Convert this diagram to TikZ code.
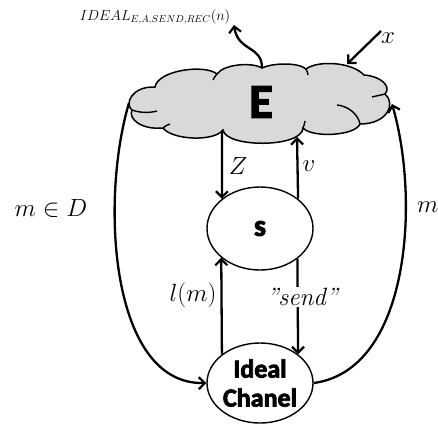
\documentclass[tikz,border=0pt]{standalone}
\usepackage{fontspec}
\newfontfamily\calfont{Carlito}[BoldFeatures={FakeBold=3}]
\usetikzlibrary{shapes.geometric,arrows.meta}
\begin{document}
\begin{tikzpicture}[x=1pt,y=-1pt,
  conn/.style={line width=2.3pt,-{Straight Barb[length=6pt,width=12pt,line width=2.2pt]}},
  ell/.style={ellipse,draw,line width=1.4pt,inner sep=0pt,minimum width=106pt},
  lab/.style={inner sep=0pt,font=\fontsize{25}{30}\selectfont},
  puff/.style={line width=1.5pt},
  curl/.style={line width=1.4pt}]
\useasboundingbox (0,0) rectangle (438,423);
% cloud outline
\draw[puff,fill=gray!30] (132,110)
  .. controls (124,104) and (132,86) .. (155,87)
  .. controls (158,70) and (205,64) .. (217,74)
  .. controls (224,64) and (252,62) .. (262,68)
  .. controls (272,63) and (298,62) .. (306,69)
  .. controls (318,60) and (352,62) .. (364,75)
  .. controls (380,76) and (392,86) .. (385,94)
  .. controls (396,103) and (388,124) .. (360,124)
  .. controls (355,136) and (312,138) .. (303,128)
  .. controls (302,148) and (226,148) .. (223,130)
  .. controls (214,142) and (172,140) .. (163,128)
  .. controls (140,130) and (128,118) .. cycle;
% inner curls
\draw[curl] (132,110) .. controls (140,113) and (150,113) .. (157,111);
\draw[curl] (217,74) .. controls (215,76) and (214,78) .. (213,80);
\draw[curl] (306,69) .. controls (307,71) and (308,73) .. (308,75);
\draw[curl] (385,94) .. controls (381,95) and (376,96) .. (372,97);
\draw[curl] (360,124) .. controls (358,114) and (348,106) .. (337,105);
\draw[curl] (303,128) .. controls (304,125) and (305,123) .. (305,121);
\draw[curl] (163,128) .. controls (165,126) and (167,125) .. (170,124);
\node[inner sep=0pt,font=\calfont\bfseries\fontsize{48}{50}\selectfont] (E) at (261,102) {E};
\node[ell,minimum height=83pt,font=\calfont\bfseries\fontsize{30}{32}\selectfont] (S) at (260,228.5) {s};
\node[ell,minimum height=80pt,align=center,font=\calfont\bfseries\fontsize{26}{30}\selectfont] (C) at (260,383) {Ideal\\[-1pt]Chanel};
% vertical arrows
\coordinate (zt) at (222,132);
\coordinate (vt) at (297,137);
\draw[conn] (zt) -- (S.142.7);
\draw[conn] (S.38.8) -- (vt);
\draw[conn] (C.143.7) -- (S.217.3);
\draw[conn] (S.321.2) -- (C.37.7);
\node[lab] (Zl) at (238,166) {$Z$};
\node[lab] (vl) at (309,166) {$v$};
\node[lab] (lm) at (193,295) {$l(m)$};
\node[lab,fill=white,inner sep=1pt] (sd) at (303,297) {\textit{''send''}};
% big side curves
\coordinate (El) at (129,103);
\coordinate (Er) at (392,104);
\draw[conn] (El) .. controls (100,200) and (110,385) .. (C.west);
\draw[conn] (C.east) .. controls (410,370) and (420,200) .. (Er);
\node[lab] (mD) at (51,208) {$m\in D$};
\node[lab,anchor=west] (mr) at (417,207) {$m$};
% top arrows
\coordinate (Et) at (262,68);
\coordinate (It) at (234,25);
\draw[conn] (Et) .. controls (262,45) and (238,52) .. (It);
\node[inner sep=0pt,font=\fontsize{14}{16}\selectfont] (Il) at (155,17) {$IDEAL_{E,A,SEND,REC}(n)$};
\coordinate (xs) at (381,31);
\coordinate (xe) at (347,64);
\draw[conn] (xs) -- (xe);
\node[lab] (xl) at (388,38) {$x$};
\end{tikzpicture}
\end{document}
